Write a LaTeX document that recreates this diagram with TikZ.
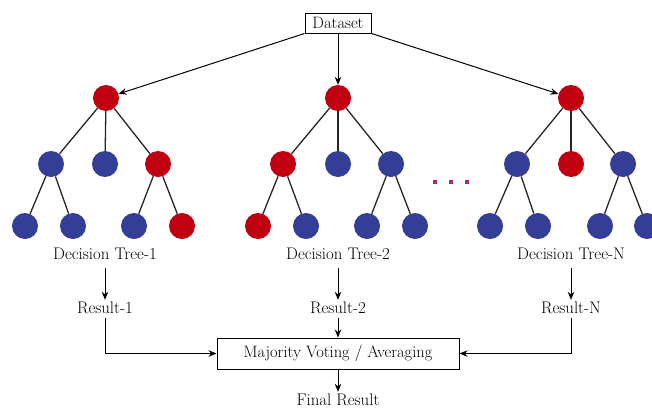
\documentclass[tikz,border=0pt]{standalone}
\usetikzlibrary{arrows.meta}
\definecolor{nred}{HTML}{C00010}
\definecolor{nblue}{HTML}{343E96}
\definecolor{dotc}{HTML}{A8306A}
\begin{document}
\begin{tikzpicture}[x=1pt,y=-1pt,
  rn/.style={circle,fill=nred,minimum size=26pt,inner sep=0pt},
  bn/.style={circle,fill=nblue,minimum size=26pt,inner sep=0pt},
  edge/.style={line width=1.3pt,black!85},
  arr/.style={line width=1pt,-{Stealth[length=8pt,width=6.5pt]}},
  txt/.style={font=\fontsize{16.8}{20}\selectfont,inner sep=1.5pt,text height=11.5pt,text depth=3.5pt},
  boxn/.style={draw,line width=1pt,font=\fontsize{16.5}{20}\selectfont,inner sep=0pt},
  dotn/.style={rectangle,fill=dotc,minimum size=4.5pt,inner sep=0pt}]
\useasboundingbox (0,0) rectangle (652,407);
% dataset
\node[boxn,minimum width=66pt,minimum height=20pt] (ds) at (338,23) {Dataset};
% tree 1
\node[rn] (t1r) at (106,98) {};
\node[bn] (t1a) at (51,164) {};
\node[bn] (t1b) at (105,164) {};
\node[rn] (t1c) at (158,164) {};
\node[bn] (t1aa) at (25,226) {};
\node[bn] (t1ab) at (73,226) {};
\node[bn] (t1ca) at (134,226) {};
\node[rn] (t1cb) at (182,226) {};
% tree 2
\node[rn] (t2r) at (338,98) {};
\node[rn] (t2a) at (283,164) {};
\node[bn] (t2b) at (338,164) {};
\node[bn] (t2c) at (391,164) {};
\node[rn] (t2aa) at (258,226) {};
\node[bn] (t2ab) at (306,226) {};
\node[bn] (t2ca) at (367,226) {};
\node[bn] (t2cb) at (415,226) {};
% tree N
\node[rn] (tNr) at (571,98) {};
\node[bn] (tNa) at (517,164) {};
\node[rn] (tNb) at (571,164) {};
\node[bn] (tNc) at (623,164) {};
\node[bn] (tNaa) at (490,226) {};
\node[bn] (tNab) at (538,226) {};
\node[bn] (tNca) at (600,226) {};
\node[bn] (tNcb) at (647,226) {};
% tree edges
\foreach \t in {1,2,N}{
  \draw[edge] (t\t r) -- (t\t a);
  \draw[edge] (t\t r) -- (t\t b);
  \draw[edge] (t\t r) -- (t\t c);
  \draw[edge] (t\t a) -- (t\t aa);
  \draw[edge] (t\t a) -- (t\t ab);
  \draw[edge] (t\t c) -- (t\t ca);
  \draw[edge] (t\t c) -- (t\t cb);
}
% dots
\node[dotn] (d1) at (435,182) {};
\node[dotn] (d2) at (451,182) {};
\node[dotn] (d3) at (467,182) {};
% dataset arrows
\draw[arr] (ds.south west) -- (t1r);
\draw[arr] (ds.south) -- (t2r);
\draw[arr] (ds.south east) -- (tNr);
% labels
\node[txt] (dt1) at (105,255) {Decision Tree-1};
\node[txt] (dt2) at (338,255) {Decision Tree-2};
\node[txt] (dtN) at (571,255) {Decision Tree-N};
\node[txt] (r1) at (105,309) {Result-1};
\node[txt] (r2) at (338,309) {Result-2};
\node[txt] (rN) at (571,309) {Result-N};
\node[boxn,minimum width=242pt,minimum height=31pt] (mv) at (338,353.5) {Majority Voting / Averaging};
\node[txt] (fr) at (338,401) {Final Result};
% arrows
\draw[arr,shorten <=4pt] (dt1.south) -- (r1.north);
\draw[arr,shorten <=4pt] (dt2.south) -- (r2.north);
\draw[arr,shorten <=4pt] (dtN.south) -- (rN.north);
\draw[arr] (r1.south) |- (mv.west);
\draw[arr] (r2.south) -- (mv.north);
\draw[arr] (rN.south) |- (mv.east);
\draw[arr] (mv.south) -- (fr.north);
\end{tikzpicture}
\end{document}
